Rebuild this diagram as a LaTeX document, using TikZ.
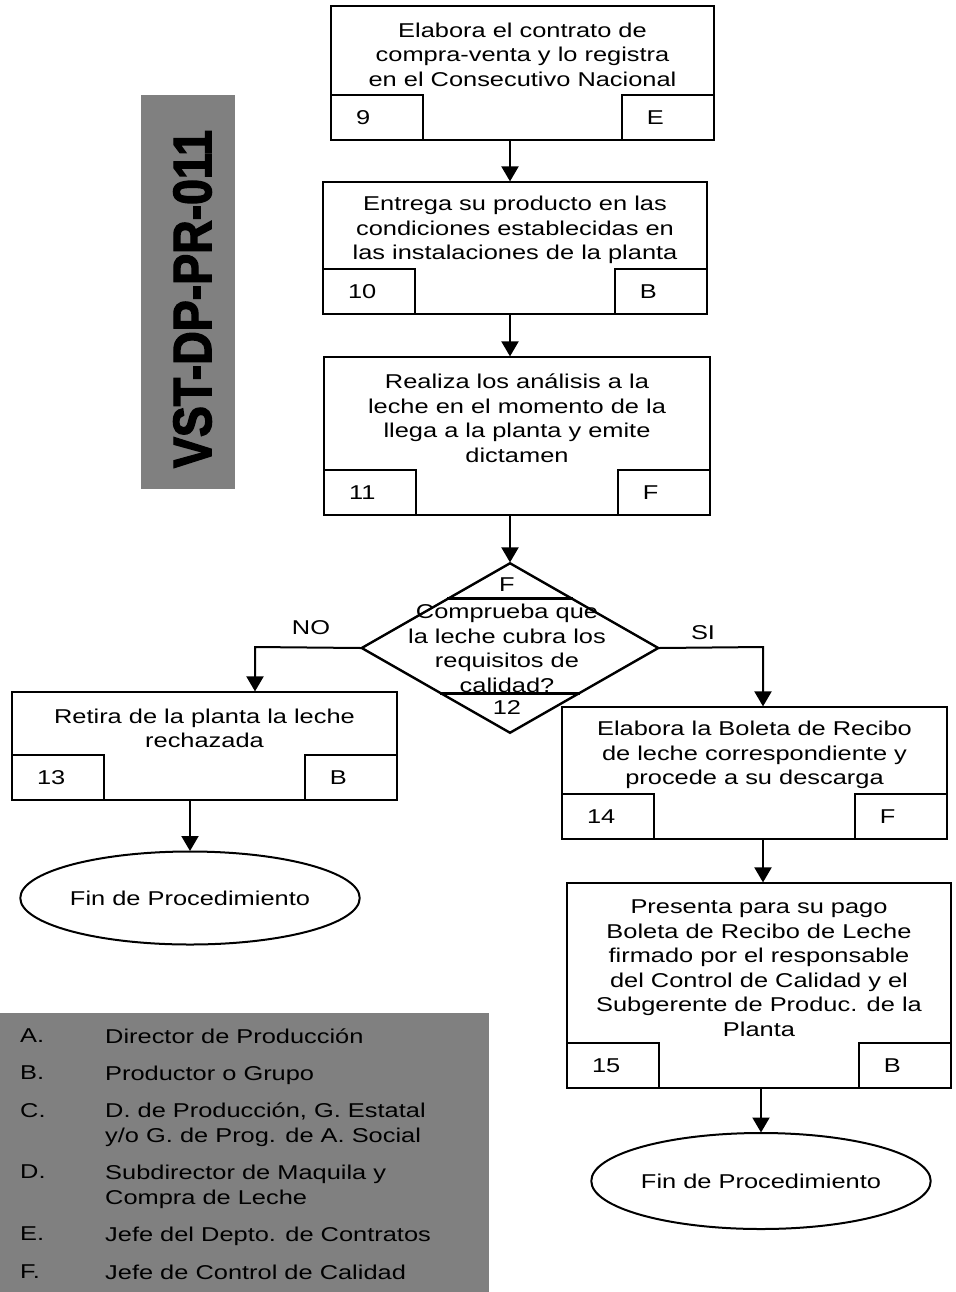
\documentclass[tikz,border=0pt]{standalone}
\usepackage{fontspec}
\setmainfont{Liberation Sans}[FakeStretch=1.27]
\newfontfamily\codefont{Liberation Sans}[FakeStretch=0.86, FakeBold=2.5]
\usepackage{tikz}
\usetikzlibrary{shapes.geometric,arrows.meta,positioning,calc}

\definecolor{gris}{RGB}{128,128,128}

\tikzset{
    caja/.style={draw, rectangle, line width=1.2pt, inner sep=0pt},
    sub/.style={draw, rectangle, line width=1.3pt, inner xsep=25pt, inner ysep=0pt,
        text width=42pt, minimum height=45pt, align=left},
    texto/.style={align=center, inner sep=0pt},
    fin/.style={draw, ellipse, line width=1pt, inner sep=0pt},
    flecha/.style={-{Triangle[width=8.5pt,length=7.5pt]}, line width=1pt}
}

\begin{document}
\begin{tikzpicture}[x=1pt, y=-1pt, scale=0.5, transform shape,
    font=\fontsize{20}{24.5}\selectfont]
    \useasboundingbox (0,0) rectangle (955,1292);

    % Code label
    \fill [gris] (141,95) rectangle (235,489);
    \node [rotate=90, inner sep=0pt, font=\codefont\fontsize{54}{54}\selectfont\bfseries]
        (codigo) at (192.5,299) {VST-DP-PR-011};

    % Steps
    \foreach \n/\cx/\cy/\w/\h/\ty/\lt/\txt in {
        9/522.5/73/383/134/54.5/E/{Elabora el contrato de\\compra-venta y lo registra\\en el Consecutivo Nacional},
        10/515/248/384/132/230/B/{Entrega su producto en las\\condiciones establecidas en\\las instalaciones de la planta},
        11/517/436/386/158/418/F/{Realiza los análisis a la\\leche en el momento de la\\llega a la planta y emite\\dictamen},
        13/204.5/746/385/108/728.5/B/{Retira de la planta la leche\\rechazada},
        14/754.5/773/385/132/755/F/{Elabora la Boleta de Recibo\\de leche correspondiente y\\procede a su descarga},
        15/759/985.5/384/205/968/B/{Presenta para su pago\\Boleta de Recibo de Leche\\firmado por el responsable\\del Control de Calidad y el\\Subgerente de Produc. de la\\Planta}} {
        \node [caja, minimum width=\w pt, minimum height=\h pt] (b\n) at (\cx,\cy) {};
        \node [texto] (t\n) at (\cx,\ty) {\txt};
        \node [sub, anchor=south west] (n\n) at (b\n.south west) {\n};
        \node [sub, anchor=south east] (l\n) at (b\n.south east) {\lt};
    }

    % Decision
    \node [draw, diamond, line width=1.2pt, minimum width=297pt, minimum height=170pt,
        inner sep=0pt] (dec) at (510,648) {};
    \draw [line width=1.2pt] ($(dec.north)!0.42!(dec.west)$) -- ($(dec.north)!0.42!(dec.east)$);
    \draw [line width=1.2pt] ($(dec.south)!0.47!(dec.west)$) -- ($(dec.south)!0.47!(dec.east)$);
    \node [texto] (rf) at (507,585) {F};
    \node [texto] (preg) at (507,648.5) {Comprueba que\\la leche cubra los\\requisitos de\\calidad?};
    \node [texto] (n12) at (507,708) {12};

    % Ends
    \node [fin, minimum width=331pt, minimum height=93pt] (fin1) at (190,898) {Fin de Procedimiento};
    \node [fin, minimum width=332pt, minimum height=96pt] (fin2) at (761,1181) {Fin de Procedimiento};

    % Connectors
    \coordinate (no) at (255,647);
    \coordinate (si) at (763,647);
    \draw [flecha] (dec.north |- b9.south) -- (dec.north |- b10.north);
    \draw [flecha] (dec.north |- b10.south) -- (dec.north |- b11.north);
    \draw [flecha] (dec.north |- b11.south) -- (dec.north);
    \draw [flecha] (dec.west) -- (no) -- (no |- b13.north);
    \draw [flecha] (dec.east) -- (si) -- (si |- b14.north);
    \draw [flecha] (fin1 |- b13.south) -- (fin1.north);
    \draw [flecha] (si |- b14.south) -- (si |- b15.north);
    \draw [flecha] (fin2 |- b15.south) -- (fin2.north);
    \node [texto] (lno) at (311,628) {NO};
    \node [texto] (lsi) at (703,633) {SI};

    % Legend
    \fill [gris] (0,1013) rectangle (489,1292);
    \foreach \y/\l/\t in {
        1029/A./Director de Producción,
        1066/B./Productor o Grupo,
        1103/C./{D. de Producción, G. Estatal\\y/o G. de Prog. de A. Social},
        1165/D./{Subdirector de Maquila y\\Compra de Leche},
        1227/E./Jefe del Depto. de Contratos,
        1265/F./Jefe de Control de Calidad} {
        \node [anchor=north west, inner sep=0pt] (r\l) at (20,\y) {\l};
        \node [anchor=north west, inner sep=0pt, align=left,
            font=\fontsize{20}{25}\selectfont] (c\l) at (105,\y) {\t};
    }
\end{tikzpicture}
\end{document}
